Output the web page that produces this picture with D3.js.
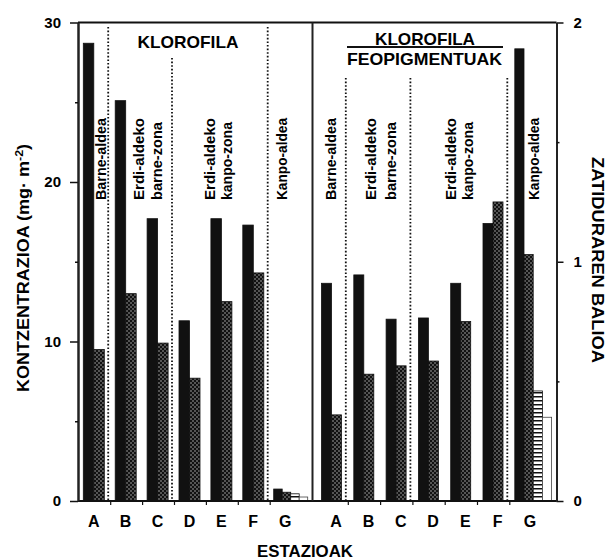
<!DOCTYPE html>
<html>
<head>
<meta charset="utf-8">
<script src="https://cdn.jsdelivr.net/npm/d3@7/dist/d3.min.js"></script>
<style>
  html, body { margin: 0; padding: 0; background: #fff; }
  svg { display: block; }
  text { font-family: "Liberation Sans", Arial, Helvetica, sans-serif; font-weight: bold; fill: #000; }
</style>
</head>
<body>
<svg id="chart" width="610" height="560"></svg>
<script>
// Stations (estazioak)
const stations = ["A", "B", "C", "D", "E", "F", "G"];

// Left panel: chlorophyll concentration, mg·m-2
const kloBeltza   = [28.7, 25.1, 17.7, 11.3, 17.7, 17.3, 0.75];
const kloPuntuak  = [9.5, 13.0, 9.9, 7.7, 12.5, 14.3, 0.55];
const kloMarrak   = [null, null, null, null, null, null, 0.45];
const kloHutsa    = [null, null, null, null, null, null, 0.25];

// Right panel: chlorophyll / pheopigment ratio
const zatBeltza   = [0.91, 0.945, 0.76, 0.765, 0.91, 1.16, 1.89];
const zatPuntuak  = [0.36, 0.53, 0.565, 0.585, 0.75, 1.25, 1.03];
const zatMarrak   = [null, null, null, null, null, null, 0.46];
const zatHutsa    = [null, null, null, null, null, null, 0.35];

// Axis ticks
const leftMajorTicks  = [0, 10, 20, 30];
const leftMinorTicks  = [5, 15, 25];
const rightMajorTicks = [0, 1, 2];
const rightMinorTicks = [0.5, 1.5];

// Zone labels above each group of stations
const zoneLabelsLeft  = [["Barne-aldea"], ["Erdi-aldeko", "barne-zona"], ["Erdi-aldeko", "kanpo-zona"], ["Kanpo-aldea"]];
const zoneLabelsRight = [["Barne-aldea"], ["Erdi-aldeko", "barne-zona"], ["Erdi-aldeko", "kanpo-zona"], ["Kanpo-aldea"]];

const svg = d3.select("#chart");
const defs = svg.append("defs");

// Fill patterns
const stip = defs.append("pattern").attr("id", "stipple")
  .attr("patternUnits", "userSpaceOnUse").attr("width", 4).attr("height", 4);
stip.append("rect").attr("width", 4).attr("height", 4).attr("fill", "#111");
stip.append("circle").attr("cx", 1).attr("cy", 1).attr("r", 0.75).attr("fill", "#bbb");
stip.append("circle").attr("cx", 3).attr("cy", 3).attr("r", 0.75).attr("fill", "#bbb");

const hs = defs.append("pattern").attr("id", "hstripe")
  .attr("patternUnits", "userSpaceOnUse").attr("width", 4).attr("height", 4);
hs.append("rect").attr("width", 4).attr("height", 4).attr("fill", "#fff");
hs.append("rect").attr("y", 0).attr("width", 4).attr("height", 1.5).attr("fill", "#111");

const seriesStyle = [
  { fill: "#111", stroke: "#111" },
  { fill: "url(#stipple)", stroke: "#111" },
  { fill: "url(#hstripe)", stroke: "#111" },
  { fill: "#fff", stroke: "#444" }
];

// Scales
const yTop = 22.5, yBot = 501;
const yL = d3.scaleLinear().domain([0, 30]).range([yBot, yTop]);
const yR = d3.scaleLinear().domain([0, 2]).range([yBot, yTop]);

const xLeftAxis = 78, xRightAxis = 556.5, xDivider = 312.5;
const xL = d3.scaleBand().domain(stations).range([78.8, 78.8 + 7 * 31.9]);
const xR = d3.scaleBand().domain(stations).range([316, 316 + 7 * 32.3]);

const panels = [
  { x: xL, y: yL, series: [kloBeltza, kloPuntuak, kloMarrak, kloHutsa],
    pad2: 4.5, w2: 10.5, pad4: 3.5, w4: 8.5, labelDx: -1,
    dotted: [{ s: "B", top: 27 }, { s: "D", top: 58 }, { s: "G", top: 27 }] },
  { x: xR, y: yR, series: [zatBeltza, zatPuntuak, zatMarrak, zatHutsa],
    pad2: 5.5, w2: 10, pad4: 5, w4: 9.2, labelDx: 4,
    dotted: [{ s: "B", top: 78 }, { s: "D", top: 78 }, { s: "G", top: 78 }] }
];

// Bars
panels.forEach(p => {
  const bars = [];
  stations.forEach((s, i) => {
    const present = p.series.map((arr, k) => ({ k, v: arr[i] })).filter(d => d.v != null);
    const n = present.length;
    const pad = n > 2 ? p.pad4 : p.pad2;
    const w = n > 2 ? p.w4 : p.w2;
    const inner = d3.scaleBand().domain(present.map(d => d.k)).range([pad, pad + n * w]);
    present.forEach(d => bars.push({ s, k: d.k, v: d.v, x: p.x(s) + inner(d.k), w: inner.bandwidth() }));
  });
  svg.append("g").selectAll("rect").data(bars).join("rect")
    .attr("x", d => d.x)
    .attr("y", d => p.y(d.v))
    .attr("width", d => d.w)
    .attr("height", d => p.y(0) - p.y(d.v))
    .attr("fill", d => seriesStyle[d.k].fill)
    .attr("stroke", d => seriesStyle[d.k].stroke)
    .attr("stroke-width", 0.8);

  // dotted zone separators
  svg.append("g").selectAll("line").data(p.dotted).join("line")
    .attr("x1", d => p.x(d.s) - 2.5).attr("x2", d => p.x(d.s) - 2.5)
    .attr("y1", d => d.top).attr("y2", yBot)
    .attr("stroke", "#111").attr("stroke-width", 1.8)
    .attr("stroke-dasharray", "1.6,2");

  // small ticks on the station axis between groups
  svg.append("g").selectAll("line").data(stations.slice(1)).join("line")
    .attr("x1", d => p.x(d)).attr("x2", d => p.x(d))
    .attr("y1", yBot).attr("y2", yBot + 4)
    .attr("stroke", "#111").attr("stroke-width", 1.2);

  // station letters
  svg.append("g").selectAll("text").data(stations).join("text")
    .attr("x", d => p.x(d) + p.x.bandwidth() / 2 + p.labelDx)
    .attr("y", 527)
    .attr("text-anchor", "middle")
    .attr("font-size", 16)
    .text(d => d);
});

// Frame: top border, divider, bottom line
svg.append("line").attr("x1", xLeftAxis).attr("x2", xRightAxis).attr("y1", yTop).attr("y2", yTop)
  .attr("stroke", "#111").attr("stroke-width", 1.8);
svg.append("line").attr("x1", xLeftAxis).attr("x2", xRightAxis).attr("y1", yBot).attr("y2", yBot)
  .attr("stroke", "#111").attr("stroke-width", 1.8);
svg.append("line").attr("x1", xDivider).attr("x2", xDivider).attr("y1", yTop).attr("y2", yBot)
  .attr("stroke", "#222").attr("stroke-width", 2);

// Left axis
const gL = svg.append("g").attr("transform", `translate(${xLeftAxis},0)`);
gL.call(d3.axisLeft(yL).tickValues(leftMajorTicks).tickSize(8).tickSizeOuter(0).tickPadding(9));
gL.append("g").call(d3.axisLeft(yL).tickValues(leftMinorTicks).tickSize(3).tickSizeOuter(0).tickFormat(""));
gL.selectAll("path.domain").attr("stroke", "#222").attr("stroke-width", 2);
gL.selectAll("line").attr("stroke", "#111").attr("stroke-width", 1.5);
gL.selectAll("text").attr("font-size", 15).attr("font-family", "'Liberation Sans', Arial, sans-serif")
  .attr("font-weight", "bold").attr("fill", "#000");

// Right axis
const gR = svg.append("g").attr("transform", `translate(${xRightAxis},0)`);
gR.call(d3.axisRight(yR).tickValues(rightMajorTicks).tickSize(7).tickSizeOuter(0).tickPadding(10).tickFormat(d3.format("d")));
gR.append("g").call(d3.axisRight(yR).tickValues(rightMinorTicks).tickSize(3).tickSizeOuter(0).tickFormat(""));
gR.selectAll("path.domain").attr("stroke", "#222").attr("stroke-width", 1.8);
gR.selectAll("line").attr("stroke", "#111").attr("stroke-width", 1.5);
gR.selectAll("text").attr("font-size", 15).attr("font-family", "'Liberation Sans', Arial, sans-serif")
  .attr("font-weight", "bold").attr("fill", "#000");

// Zone labels (rotated)
function zoneLabel(x, lines) {
  lines.forEach((t, j) => {
    svg.append("text")
      .attr("transform", `translate(${x[j]},200) rotate(-90)`)
      .attr("font-size", 14.5)
      .attr("text-anchor", "start")
      .attr("textLength", t.length > 10 ? 82 : 78)
      .attr("lengthAdjust", "spacingAndGlyphs")
      .text(t);
  });
}
const zoneXLeft  = [[106], [144, 162], [215, 232], [287]];
const zoneXRight = [[336], [376, 396], [456, 473], [539]];
zoneLabelsLeft.forEach((l, i) => zoneLabel(zoneXLeft[i], l));
zoneLabelsRight.forEach((l, i) => zoneLabel(zoneXRight[i], l));

// Panel titles
svg.append("text").attr("x", 188).attr("y", 48).attr("text-anchor", "middle")
  .attr("font-size", 17).attr("textLength", 101).attr("lengthAdjust", "spacingAndGlyphs").text("KLOROFILA");
svg.append("text").attr("x", 425).attr("y", 45).attr("text-anchor", "middle")
  .attr("font-size", 17).attr("textLength", 100).attr("lengthAdjust", "spacingAndGlyphs").text("KLOROFILA");
svg.append("line").attr("x1", 347).attr("x2", 503).attr("y1", 47).attr("y2", 47)
  .attr("stroke", "#111").attr("stroke-width", 1.8);
svg.append("text").attr("x", 424.5).attr("y", 65).attr("text-anchor", "middle")
  .attr("font-size", 17).attr("textLength", 155).attr("lengthAdjust", "spacingAndGlyphs").text("FEOPIGMENTUAK");

// Axis titles
const yTitle = svg.append("text")
  .attr("transform", "translate(29,268) rotate(-90)")
  .attr("text-anchor", "middle").attr("font-size", 16)
  .attr("textLength", 248).attr("lengthAdjust", "spacingAndGlyphs");
yTitle.append("tspan").text("KONTZENTRAZIOA (mg· m");
yTitle.append("tspan").attr("dy", -6).attr("font-size", 11).text("-2");
yTitle.append("tspan").attr("dy", 6).text(")");

svg.append("text")
  .attr("transform", "translate(592,260) rotate(90)")
  .attr("text-anchor", "middle").attr("font-size", 16)
  .attr("textLength", 206).attr("lengthAdjust", "spacingAndGlyphs")
  .text("ZATIDURAREN BALIOA");

svg.append("text").attr("x", 305).attr("y", 557).attr("text-anchor", "middle")
  .attr("font-size", 16).attr("textLength", 96).attr("lengthAdjust", "spacingAndGlyphs")
  .text("ESTAZIOAK");
</script>
</body>
</html>
